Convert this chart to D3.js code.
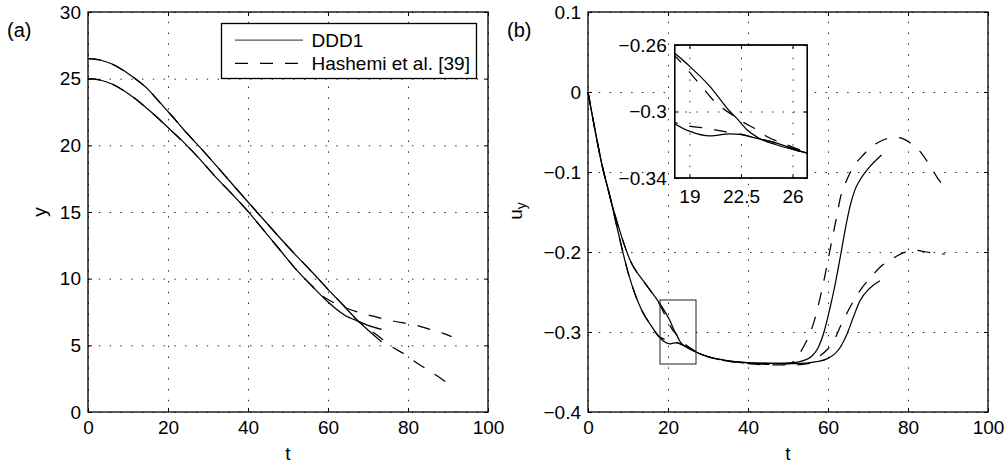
<!DOCTYPE html>
<html>
<head>
<meta charset="utf-8">
<script src="https://cdn.jsdelivr.net/npm/d3@7"></script>
<style>
  html, body { margin: 0; padding: 0; background: #fff; }
  svg text { font-family: "Liberation Sans", Arial, Helvetica, sans-serif; fill: #000; }
</style>
</head>
<body>
<svg id="chart" width="1006" height="466"></svg>
<script>
// ---- panel (a): y against t ----
const tLeft = [0, 3, 6, 9, 12, 15, 18, 21, 24, 28, 32, 36, 40, 44, 48, 52, 56, 60, 64, 67.6, 70, 73.4];
const dddY1 = [26.5, 26.4, 26.1, 25.6, 24.95, 24.2, 23.2, 22.2, 21.15, 19.85, 18.5, 17.12, 15.75, 14.4, 13.05, 11.75, 10.5, 9.2, 7.95, 6.8, 6.15, 5.25];
const dddY2 = [25.0, 24.9, 24.6, 24.1, 23.45, 22.7, 21.9, 21.05, 20.2, 18.95, 17.6, 16.35, 15.05, 13.6, 12.15, 10.7, 9.45, 8.25, 7.3, 6.8, 6.5, 6.2];

const tHashA = [0, 3, 6, 9, 12, 15, 18, 21, 24, 28, 32, 36, 40, 44, 48, 52, 56, 60, 64, 67.6, 70.5, 73.4, 75.9, 78.8, 81.75, 84.7, 87.8, 90.7];
const hashY1 = [26.5, 26.4, 26.1, 25.6, 24.95, 24.2, 23.2, 22.2, 21.15, 19.85, 18.5, 17.12, 15.75, 14.4, 13.05, 11.75, 10.5, 9.2, 7.95, 6.8, 6.15, 5.5, 4.9, 4.4, 3.77, 3.2, 2.6, 2.0];
const tHashB = [0, 3, 6, 9, 12, 15, 18, 21, 24, 28, 32, 36, 40, 44, 48, 52, 56, 58, 61.75, 64.7, 68.4, 71.75, 75.1, 78.4, 82.2, 85.3, 88.8, 90.9];
const hashY2 = [25.0, 24.9, 24.6, 24.1, 23.45, 22.7, 21.9, 21.05, 20.2, 18.95, 17.6, 16.35, 15.05, 13.6, 12.15, 10.7, 9.45, 8.85, 8.15, 7.78, 7.4, 7.15, 6.9, 6.7, 6.5, 6.22, 5.9, 5.65];

const ticksT = [0, 20, 40, 60, 80, 100];
const ticksY = [0, 5, 10, 15, 20, 25, 30];

// ---- panel (b): u_y against t, [t, u_y] ----
const dddUyA = [[0, 0], [0.8, -0.022], [1.75, -0.0475], [3.4, -0.089], [5.5, -0.131], [7.6, -0.168], [10.5, -0.21], [14.25, -0.239], [17.6, -0.262], [19.04, -0.273], [20.4, -0.285], [21.75, -0.3], [22.2, -0.304], [22.9, -0.311], [23.7, -0.316], [24.9, -0.32], [27, -0.325], [28.8, -0.3288], [33.8, -0.335], [39.7, -0.3383], [46.3, -0.3392], [52, -0.338], [54, -0.3355], [56, -0.33], [57.5, -0.32], [59, -0.3], [60.5, -0.27], [61.8, -0.24], [63.3, -0.2], [64.3, -0.172], [65.5, -0.143], [66.75, -0.122], [68, -0.11], [70.1, -0.0954], [73.4, -0.0788]];
const dddUyB = [[0, 0], [0.8, -0.022], [1.75, -0.0475], [3.4, -0.089], [5.5, -0.131], [7.2, -0.168], [10.1, -0.227], [13.4, -0.2725], [15.9, -0.293], [17.6, -0.305], [19.04, -0.312], [20.4, -0.3147], [21.75, -0.3135], [22.5, -0.3137], [23.3, -0.3155], [24.5, -0.318], [27, -0.325], [28.8, -0.3288], [33.8, -0.335], [39.7, -0.3383], [46.3, -0.3392], [52, -0.3395], [57.2, -0.337], [60, -0.333], [62.6, -0.3225], [64.7, -0.303], [66.3, -0.282], [68, -0.261], [70.5, -0.245], [73, -0.236]];
const hashUyA = [[0, 0], [0.8, -0.022], [1.75, -0.0475], [3.4, -0.089], [5.5, -0.131], [7.6, -0.168], [10.5, -0.21], [14.25, -0.239], [17.6, -0.263], [18.6, -0.272], [19.26, -0.279], [19.83, -0.285], [20.5, -0.292], [21.1, -0.297], [21.9, -0.302], [22.7, -0.3067], [23.57, -0.311], [24.35, -0.3155], [25.26, -0.3188], [26.05, -0.3216], [27, -0.3245], [28.8, -0.329], [33.8, -0.3355], [39.7, -0.339], [46.3, -0.3405], [50.5, -0.3395], [52.6, -0.329], [54.25, -0.315], [55.5, -0.3016], [56.75, -0.283], [57.6, -0.266], [58.8, -0.24], [59.7, -0.218], [60.9, -0.187], [62, -0.16], [63.2, -0.13], [64.7, -0.11], [66.3, -0.0934], [68.4, -0.081], [70.9, -0.0684], [73.8, -0.06], [76.5, -0.0565], [78.5, -0.058], [80.5, -0.0634], [83.4, -0.0766], [85.1, -0.089], [87.2, -0.106], [89.25, -0.12]];
const hashUyB = [[0, 0], [0.8, -0.022], [1.75, -0.0475], [3.4, -0.089], [5.5, -0.131], [7.2, -0.168], [10.1, -0.227], [13.4, -0.2725], [15.9, -0.293], [17.6, -0.305], [18.93, -0.3087], [19.83, -0.3097], [20.74, -0.311], [21.75, -0.3128], [22.43, -0.3137], [23.3, -0.3155], [24.5, -0.318], [27, -0.3255], [28.8, -0.329], [33.8, -0.3355], [39.7, -0.3395], [46.3, -0.341], [52, -0.341], [55, -0.3395], [57.6, -0.331], [59.7, -0.3225], [61.75, -0.308], [63.2, -0.292], [64.7, -0.2767], [66.3, -0.262], [68.4, -0.2454], [70.5, -0.233], [73, -0.219], [75.9, -0.209], [78.8, -0.201], [80.5, -0.1985], [82.2, -0.198], [84, -0.1995], [86, -0.201], [89.25, -0.2025]];

const ticksUy = [-0.4, -0.3, -0.2, -0.1, 0, 0.1];
const zoomT = [18, 27];
const zoomUy = [-0.34, -0.26];
const insetTicksT = [19, 22.5, 26];
const insetTicksUy = [-0.34, -0.3, -0.26];

const legendLabels = ["DDD1", "Hashemi et al. [39]"];

const FONT = 19;
const DASH = "13,12";
const svg = d3.select("#chart");

const minus = (v) => String(v).replace("-", "\u2212");

function drawFrame(g, x, y, xTicks, yTicks, fmtX, fmtY, o) {
    const [x0, x1] = x.range();
    const [y0, y1] = y.range();
    const w = x1 - x0, h = y0 - y1;

    if (o.fill) {
        g.append("rect").attr("x", x0).attr("y", y1).attr("width", w).attr("height", h).attr("fill", "#fff");
    }

    // dotted grid
    g.append("g")
        .attr("transform", `translate(0,${y0})`)
        .call(d3.axisBottom(x).tickValues(xTicks).tickSize(-h).tickFormat(""))
        .call(a => a.select(".domain").remove())
        .selectAll("line").attr("stroke", "#222").attr("stroke-dasharray", "1.4,9.4");
    g.append("g")
        .attr("transform", `translate(${x0},0)`)
        .call(d3.axisLeft(y).tickValues(yTicks).tickSize(-w).tickFormat(""))
        .call(a => a.select(".domain").remove())
        .selectAll("line").attr("stroke", "#222").attr("stroke-dasharray", "1.4,9.4");

    const style = a => {
        a.select(".domain").remove();
        a.attr("font-size", FONT).attr("font-family", null);
        a.selectAll("line").attr("stroke", "#000");
        a.selectAll("text").attr("fill", "#000");
    };

    g.append("g").attr("transform", `translate(0,${y0})`)
        .call(d3.axisBottom(x).tickValues(xTicks).tickSizeInner(-4).tickSizeOuter(0).tickPadding(o.padX).tickFormat(fmtX))
        .call(style);
    g.append("g").attr("transform", `translate(0,${y1})`)
        .call(d3.axisTop(x).tickValues(xTicks).tickSizeInner(-4).tickSizeOuter(0).tickFormat(""))
        .call(style);
    g.append("g").attr("transform", `translate(${x0},0)`)
        .call(d3.axisLeft(y).tickValues(yTicks).tickSizeInner(-4).tickSizeOuter(0).tickPadding(o.padY).tickFormat(fmtY))
        .call(style);
    g.append("g").attr("transform", `translate(${x1},0)`)
        .call(d3.axisRight(y).tickValues(yTicks).tickSizeInner(-4).tickSizeOuter(0).tickFormat(""))
        .call(style);

    g.append("rect")
        .attr("x", x0).attr("y", y1).attr("width", w).attr("height", h)
        .attr("fill", "none").attr("stroke", "#000").attr("stroke-width", 1.3);
}

function drawCurve(g, line, pts, dashed) {
    g.append("path")
        .datum(pts)
        .attr("d", line)
        .attr("fill", "none")
        .attr("stroke", "#000")
        .attr("stroke-width", 1.25)
        .attr("stroke-dasharray", dashed ? DASH : null);
}

// ---------- (a) ----------
const xA = d3.scaleLinear().domain([0, 100]).range([88, 488]);
const yA = d3.scaleLinear().domain([0, 30]).range([412, 12]);
const gA = svg.append("g");

drawFrame(gA, xA, yA, ticksT, ticksY, d => d, d => d, { padX: 9, padY: 7 });

const lineA = d3.line().x(d => xA(d[0])).y(d => yA(d[1])).curve(d3.curveMonotoneX);
drawCurve(gA, lineA, d3.zip(tLeft, dddY1), false);
drawCurve(gA, lineA, d3.zip(tLeft, dddY2), false);
drawCurve(gA, lineA, d3.zip(tHashA, hashY1), true);
drawCurve(gA, lineA, d3.zip(tHashB, hashY2), true);

gA.append("text").attr("x", 288).attr("y", 460).attr("text-anchor", "middle").attr("font-size", FONT).text("t");
gA.append("text").attr("transform", "translate(46,212) rotate(-90)").attr("text-anchor", "middle").attr("font-size", FONT).text("y");
gA.append("text").attr("x", 7).attr("y", 37).attr("font-size", 20).text("(a)");

// legend
const lg = gA.append("g");
lg.append("rect").attr("x", 221.5).attr("y", 23.5).attr("width", 255).attr("height", 55)
    .attr("fill", "#fff").attr("stroke", "#000").attr("stroke-width", 1.3);
legendLabels.forEach((label, i) => {
    const ly = 40 + i * 23.3;
    lg.append("line").attr("x1", 235).attr("x2", 303).attr("y1", ly).attr("y2", ly)
        .attr("stroke", i ? "#000" : "#555").attr("stroke-width", 1.25)
        .attr("stroke-dasharray", i ? DASH : null);
    lg.append("text").attr("x", 311.5).attr("y", ly).attr("dy", "0.35em").attr("font-size", FONT).text(label);
});

// ---------- (b) ----------
const xB = d3.scaleLinear().domain([0, 100]).range([588, 988]);
const yB = d3.scaleLinear().domain([-0.4, 0.1]).range([412, 12]);
const gB = svg.append("g");

drawFrame(gB, xB, yB, ticksT, ticksUy, d => d, d => minus(d), { padX: 9, padY: 7 });

const lineB = d3.line().x(d => xB(d[0])).y(d => yB(d[1])).curve(d3.curveMonotoneX);
drawCurve(gB, lineB, dddUyA, false);
drawCurve(gB, lineB, dddUyB, false);
drawCurve(gB, lineB, hashUyA, true);
drawCurve(gB, lineB, hashUyB, true);

// zoom box
gB.append("rect")
    .attr("x", xB(zoomT[0])).attr("y", yB(zoomUy[1]))
    .attr("width", xB(zoomT[1]) - xB(zoomT[0])).attr("height", yB(zoomUy[0]) - yB(zoomUy[1]))
    .attr("fill", "none").attr("stroke", "#222").attr("stroke-width", 1);

gB.append("text").attr("x", 788).attr("y", 460).attr("text-anchor", "middle").attr("font-size", FONT).text("t");
const uy = gB.append("text").attr("transform", "translate(522,211) rotate(-90)").attr("text-anchor", "middle").attr("font-size", FONT);
uy.append("tspan").text("u");
uy.append("tspan").attr("font-size", 14).attr("dy", 4).text("y");
gB.append("text").attr("x", 507).attr("y", 37).attr("font-size", 20).text("(b)");

// ---------- inset ----------
const xI = d3.scaleLinear().domain(zoomT).range([674.7, 807.3]);
const yI = d3.scaleLinear().domain(zoomUy).range([178, 45]);
const gI = svg.append("g");

svg.append("clipPath").attr("id", "inset-clip")
    .append("rect").attr("x", 674.7).attr("y", 45).attr("width", 132.6).attr("height", 133);

drawFrame(gI, xI, yI, insetTicksT, insetTicksUy, d => d, d => minus(d), { padX: 12, padY: 8, fill: true });

const lineI = d3.line().x(d => xI(d[0])).y(d => yI(d[1])).curve(d3.curveMonotoneX);
const gIc = gI.append("g").attr("clip-path", "url(#inset-clip)");
drawCurve(gIc, lineI, dddUyA, false);
drawCurve(gIc, lineI, dddUyB, false);
drawCurve(gIc, lineI, hashUyA, true);
drawCurve(gIc, lineI, hashUyB, true);
gI.append("rect").attr("x", 674.7).attr("y", 45).attr("width", 132.6).attr("height", 133)
    .attr("fill", "none").attr("stroke", "#000").attr("stroke-width", 1.3);
</script>
</body>
</html>
